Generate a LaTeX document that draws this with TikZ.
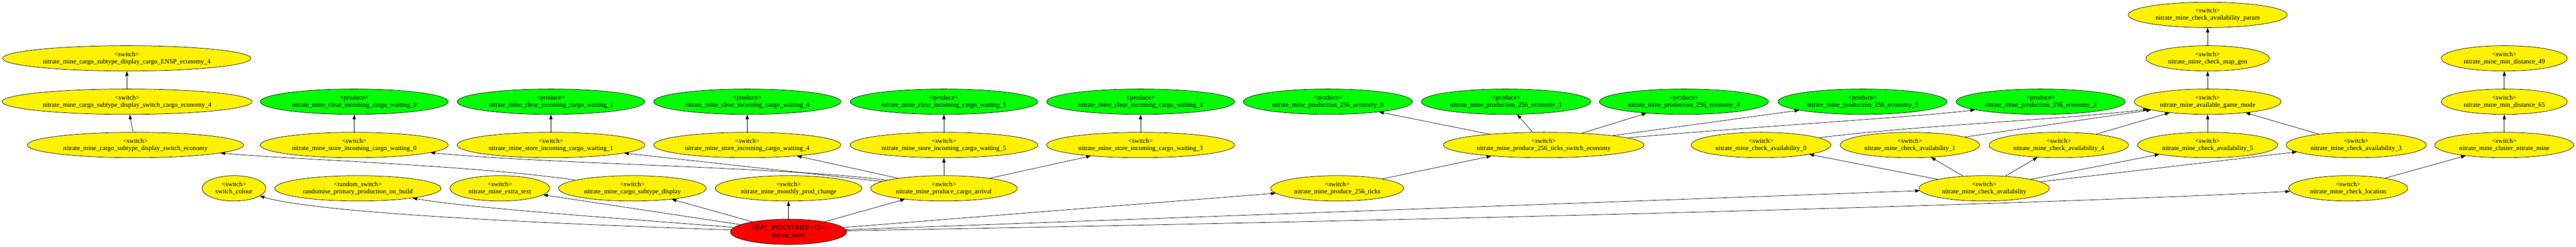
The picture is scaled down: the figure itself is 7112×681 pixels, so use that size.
\documentclass[tikz,border=0pt]{standalone}
\usepackage{fontspec}
\setmainfont{Liberation Serif}
\usetikzlibrary{shapes.geometric,arrows.meta}
\tikzset{
  gv/.style={ellipse, draw=black, line width=0.8pt, inner sep=0pt,
    minimum height=70*0.7734pt, align=center, font=\fontsize{14}{15.5}\selectfont},
  yel/.style={gv, fill=yellow},
  grn/.style={gv, fill=green},
  rd/.style={gv, fill=red},
  wd/.style={minimum width=#1*0.7734pt},
  arr/.style={draw=black, line width=0.8pt, -{Triangle[length=10pt,width=7pt]}}
}
\begin{document}
\begin{tikzpicture}[x=0.7734pt,y=-0.7734pt]
\fill[white] (0,0) rectangle (7112,681);
\useasboundingbox (0,0) rectangle (7112,681);
% row y: 41, 161, 280.5, 400, 519.5, 639.5
\node[yel,wd=686] (ensp) at (350,161) {<switch>\\nitrate\_mine\_cargo\_subtype\_display\_cargo\_ENSP\_economy\_4};
\node[yel,wd=690] (sc4) at (351,280.5) {<switch>\\nitrate\_mine\_cargo\_subtype\_display\_switch\_cargo\_economy\_4};
\node[yel,wd=597] (dse) at (374,400) {<switch>\\nitrate\_mine\_cargo\_subtype\_display\_switch\_economy};
\node[yel,wd=176] (swc) at (646,519.5) {<switch>\\switch\_colour};
\node[yel,wd=459] (rnd) at (988,519.5) {<random\_switch>\\randomise\_primary\_production\_on\_build};
\node[yel,wd=276] (ext) at (1380,519.5) {<switch>\\nitrate\_mine\_extra\_text};
\node[yel,wd=408] (csd) at (1746,519.5) {<switch>\\nitrate\_mine\_cargo\_subtype\_display};
\node[yel,wd=405] (mpc) at (2177,519.5) {<switch>\\nitrate\_mine\_monthly\_prod\_change};
\node[yel,wd=405] (pca) at (2606,519.5) {<switch>\\nitrate\_mine\_produce\_cargo\_arrival};
\node[rd,wd=321] (feat) at (2177,639.5) {FEAT\_INDUSTRIES <65>\\nitrate\_mine};
% incoming cargo
\node[grn,wd=519] (cl0) at (978,280.5) {<produce>\\nitrate\_mine\_clear\_incoming\_cargo\_waiting\_0};
\node[yel,wd=519] (st0) at (978,400) {<switch>\\nitrate\_mine\_store\_incoming\_cargo\_waiting\_0};
\node[grn,wd=518] (cl1) at (1521,280.5) {<produce>\\nitrate\_mine\_clear\_incoming\_cargo\_waiting\_1};
\node[yel,wd=518] (st1) at (1521,400) {<switch>\\nitrate\_mine\_store\_incoming\_cargo\_waiting\_1};
\node[grn,wd=517] (cl4) at (2063,280.5) {<produce>\\nitrate\_mine\_clear\_incoming\_cargo\_waiting\_4};
\node[yel,wd=517] (st4) at (2063,400) {<switch>\\nitrate\_mine\_store\_incoming\_cargo\_waiting\_4};
\node[grn,wd=518] (cl5) at (2606,280.5) {<produce>\\nitrate\_mine\_clear\_incoming\_cargo\_waiting\_5};
\node[yel,wd=518] (st5) at (2606,400) {<switch>\\nitrate\_mine\_store\_incoming\_cargo\_waiting\_5};
\node[grn,wd=519] (cl3) at (3149,280.5) {<produce>\\nitrate\_mine\_clear\_incoming\_cargo\_waiting\_3};
\node[yel,wd=519] (st3) at (3149,400) {<switch>\\nitrate\_mine\_store\_incoming\_cargo\_waiting\_3};
% production
\node[grn,wd=467] (ec0) at (3666,280.5) {<produce>\\nitrate\_mine\_production\_256\_economy\_0};
\node[grn,wd=468] (ec1) at (4158,280.5) {<produce>\\nitrate\_mine\_production\_256\_economy\_1};
\node[grn,wd=467] (ec4) at (4649,280.5) {<produce>\\nitrate\_mine\_production\_256\_economy\_4};
\node[grn,wd=467] (ec5) at (5142,280.5) {<produce>\\nitrate\_mine\_production\_256\_economy\_5};
\node[grn,wd=467] (ec3) at (5634,280.5) {<produce>\\nitrate\_mine\_production\_256\_economy\_3};
\node[yel,wd=554] (ptse) at (4262,400) {<switch>\\nitrate\_mine\_produce\_256\_ticks\_switch\_economy};
\node[yel,wd=367] (ptk) at (3692,519.5) {<switch>\\nitrate\_mine\_produce\_256\_ticks};
% availability
\node[yel,wd=386] (ca0) at (4862,400) {<switch>\\nitrate\_mine\_check\_availability\_0};
\node[yel,wd=385] (ca1) at (5273,400) {<switch>\\nitrate\_mine\_check\_availability\_1};
\node[yel,wd=385] (ca4) at (5684,400) {<switch>\\nitrate\_mine\_check\_availability\_4};
\node[yel,wd=387] (ca5) at (6095,400) {<switch>\\nitrate\_mine\_check\_availability\_5};
\node[yel,wd=387] (ca3) at (6505,400) {<switch>\\nitrate\_mine\_check\_availability\_3};
\node[yel,wd=360] (ca) at (5478,519.5) {<switch>\\nitrate\_mine\_check\_availability};
\node[yel,wd=405] (agm) at (6095,280.5) {<switch>\\nitrate\_mine\_available\_game\_mode};
\node[yel,wd=341] (mg) at (6095,161) {<switch>\\nitrate\_mine\_check\_map\_gen};
\node[yel,wd=439] (param) at (6095,41) {<switch>\\nitrate\_mine\_check\_availability\_param};
% location
\node[yel,wd=329] (cloc) at (6483,519.5) {<switch>\\nitrate\_mine\_check\_location};
\node[yel,wd=384] (clus) at (6914,400) {<switch>\\nitrate\_mine\_cluster\_nitrate\_mine};
\node[yel,wd=348] (md65) at (6914,280.5) {<switch>\\nitrate\_mine\_min\_distance\_65};
\node[yel,wd=348] (md49) at (6914,161) {<switch>\\nitrate\_mine\_min\_distance\_49};
% edges
\draw[arr] (sc4) -- (ensp);
\draw[arr] (dse) -- (sc4);
\draw[arr] (st0) -- (cl0);
\draw[arr] (st1) -- (cl1);
\draw[arr] (st4) -- (cl4);
\draw[arr] (st5) -- (cl5);
\draw[arr] (st3) -- (cl3);
\draw[arr] (pca) -- (st5);
\draw[arr] (pca) -- (st3);
\draw[arr] (pca) -- (st4);
\draw[arr] (pca) -- (st1);
\draw[arr] (pca) .. controls (2200,462) and (1500,452) .. (st0);
\draw[arr] (csd) .. controls (1300,455) and (800,440) .. (dse);
\draw[arr] (feat) .. controls (1300,610) and (850,580) .. (swc);
\draw[arr] (feat) .. controls (1750,605) and (1300,575) .. (rnd);
\draw[arr] (feat) -- (ext);
\draw[arr] (feat) -- (csd);
\draw[arr] (feat) -- (mpc);
\draw[arr] (feat) -- (pca);
\draw[arr] (feat) -- (ptk);
\draw[arr] (feat) -- (ca);
\draw[arr] (feat) .. controls (3800,610) and (5500,570) .. (cloc);
\draw[arr] (ptk) -- (ptse);
\draw[arr] (ptse) -- (ec0);
\draw[arr] (ptse) -- (ec1);
\draw[arr] (ptse) -- (ec4);
\draw[arr] (ptse) -- (ec5);
\draw[arr] (ptse) .. controls (4900,345) and (5300,322) .. (ec3);
\draw[arr] (ca) -- (ca0);
\draw[arr] (ca) -- (ca1);
\draw[arr] (ca) -- (ca4);
\draw[arr] (ca) -- (ca5);
\draw[arr] (ca) -- (ca3);
\draw[arr] (ca0) .. controls (5300,345) and (5700,330) .. (agm);
\draw[arr] (ca1) -- (agm);
\draw[arr] (ca4) -- (agm);
\draw[arr] (ca5) -- (agm);
\draw[arr] (ca3) -- (agm);
\draw[arr] (agm) -- (mg);
\draw[arr] (mg) -- (param);
\draw[arr] (cloc) -- (clus);
\draw[arr] (clus) -- (md65);
\draw[arr] (md65) -- (md49);
\end{tikzpicture}
\end{document}
